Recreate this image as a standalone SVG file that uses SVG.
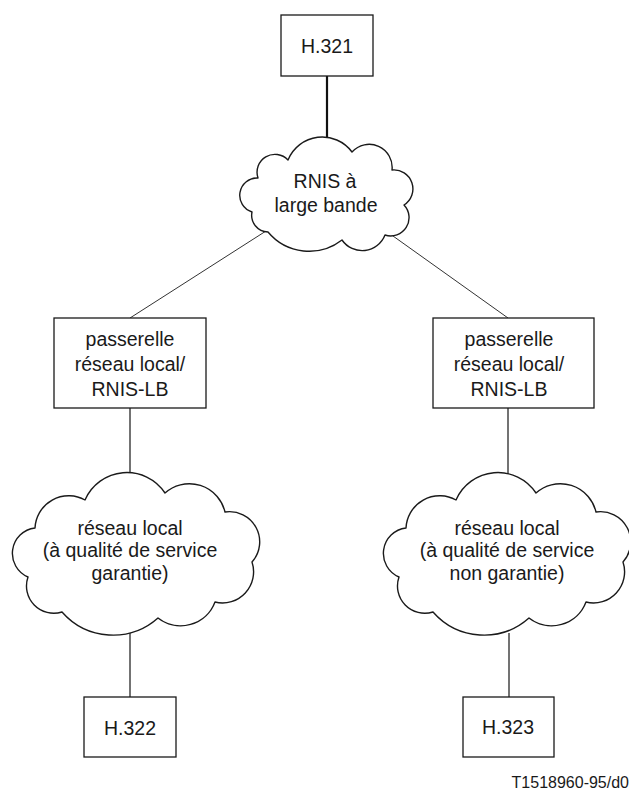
<svg xmlns="http://www.w3.org/2000/svg" width="629" height="791" viewBox="0 0 629 791">
  <style>
    .box { fill: #ffffff; stroke: #1a1a1a; stroke-width: 1.3; }
    .cloud { fill: #ffffff; stroke: #1a1a1a; stroke-width: 1.4; stroke-linejoin: round; }
    .lbl { font-family: "Liberation Sans", Arial, sans-serif; font-size: 19.5px; fill: #1a1a1a; text-anchor: middle; }
    .ref { font-family: "Liberation Sans", Arial, sans-serif; font-size: 16px; fill: #1a1a1a; text-anchor: end; }
    .thick { stroke: #111111; stroke-width: 2.2; fill: none; }
    .thin { stroke: #333333; stroke-width: 1; fill: none; }
    .mid { stroke: #444444; stroke-width: 1.5; fill: none; }
  </style>
  <defs>
    <!-- lobed outline for a local network -->
    <path id="lanCloud" d="M85,500 A45.7,45.7 0 0 1 165,493 A36.6,36.6 0 0 1 225,512 A30.2,30.2 0 0 1 252,562 A31.1,31.1 0 0 1 215,602 A36.7,36.7 0 0 1 158,618 A67.8,67.8 0 0 1 62,612 A27.3,27.3 0 0 1 28,577 A25.6,25.6 0 0 1 35,528 A33.7,33.7 0 0 1 85,500 Z"/>
  </defs>

  <!-- connectors -->
  <g id="connectors">
    <line class="thick" x1="327" y1="76" x2="327" y2="140"/>
    <line class="thin" x1="266" y1="231" x2="130" y2="318"/>
    <line class="thin" x1="386" y1="231" x2="508" y2="318"/>
    <line class="mid" x1="130" y1="408" x2="130" y2="474"/>
    <line class="mid" x1="508" y1="408" x2="508" y2="474"/>
    <line class="mid" x1="130" y1="633" x2="130" y2="697"/>
    <line class="mid" x1="509" y1="633" x2="509" y2="697"/>
  </g>

  <g id="h321">
    <rect class="box" x="281" y="15" width="92" height="61"/>
    <text class="lbl" x="327" y="53">H.321</text>
  </g>

  <g id="rnis-lb">
    <path class="cloud" d="M288,160 A37,37 0 0 1 352,152 A23,23 0 0 1 392,170 A19,19 0 0 1 404,205 A18.3,18.3 0 0 1 385,235 A24.5,24.5 0 0 1 342,240 A53.6,53.6 0 0 1 268,232 A16.7,16.7 0 0 1 252,212 A17.4,17.4 0 0 1 258,178 A17.9,17.9 0 0 1 288,160 Z"/>
    <text class="lbl" x="325" y="188">RNIS à</text>
    <text class="lbl" x="326" y="212">large bande</text>
  </g>

  <g id="gateway-left">
    <rect class="box" x="54" y="318" width="152" height="90"/>
    <text class="lbl" x="130" y="346">passerelle</text>
    <text class="lbl" x="130" y="371">réseau local/</text>
    <text class="lbl" x="130" y="396">RNIS-LB</text>
  </g>

  <g id="gateway-right">
    <rect class="box" x="433" y="318" width="161" height="90"/>
    <text class="lbl" x="509" y="346">passerelle</text>
    <text class="lbl" x="509" y="371">réseau local/</text>
    <text class="lbl" x="509" y="396">RNIS-LB</text>
  </g>

  <g id="lan-guaranteed">
    <use href="#lanCloud" class="cloud"/>
    <text class="lbl" x="130" y="535">réseau local</text>
    <text class="lbl" x="130" y="557">(à qualité de service</text>
    <text class="lbl" x="130" y="580">garantie)</text>
  </g>

  <g id="lan-not-guaranteed">
    <use href="#lanCloud" class="cloud" transform="translate(371,0)"/>
    <text class="lbl" x="507" y="535">réseau local</text>
    <text class="lbl" x="507" y="557">(à qualité de service</text>
    <text class="lbl" x="507" y="580">non garantie)</text>
  </g>

  <g id="h322">
    <rect class="box" x="84" y="697" width="92" height="60"/>
    <text class="lbl" x="130" y="735">H.322</text>
  </g>

  <g id="h323">
    <rect class="box" x="463" y="697" width="91" height="60"/>
    <text class="lbl" x="508" y="734">H.323</text>
  </g>

  <text class="ref" x="629" y="788">T1518960-95/d0</text>
</svg>
